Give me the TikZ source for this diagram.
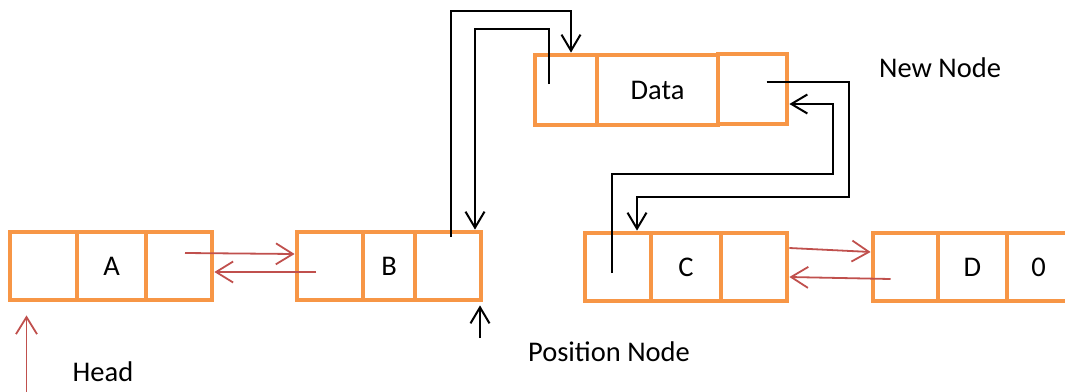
\documentclass[tikz,border=0pt]{standalone}
\usepackage{fontspec}
\setmainfont{Carlito}
\usetikzlibrary{arrows.meta}
\definecolor{nodeorange}{HTML}{F79646}
\definecolor{linkred}{HTML}{C0504D}
\tikzset{
  cell/.style={draw=nodeorange, line width=4.8pt, minimum height=68pt, inner sep=0pt, font=\fontsize{28.5}{33}\selectfont},
  redarrow/.style={draw=linkred, line width=1.8pt, -{Straight Barb[length=17pt,width=21pt,line width=1.8pt]}},
  blkarrow/.style={draw=black, line width=2pt, -{Straight Barb[length=16pt,width=19pt,line width=2pt]}},
  label/.style={font=\fontsize{28.5}{33}\selectfont, inner sep=0pt}
}
\begin{document}
\begin{tikzpicture}[x=1pt,y=-1pt]
\useasboundingbox (0,0) rectangle (1065,391);
% Node A
\node[cell, minimum width=67pt] (a1) at (43.5,266) {};
\node[cell, minimum width=69pt] (a2) at (111.5,266) {A};
\node[cell, minimum width=66pt] (a3) at (179,266) {};
% Node B
\node[cell, minimum width=66pt] (b1) at (330,266) {};
\node[cell, minimum width=52pt] (b2) at (389,266) {B};
\node[cell, minimum width=66pt] (b3) at (448,266) {};
% New node
\node[cell, minimum width=62pt, minimum height=70pt] (n1) at (566,90) {};
\node[cell, minimum width=121pt, minimum height=70pt] (n2) at (657.5,90) {Data};
\node[cell, minimum width=69pt, minimum height=70pt] (n3) at (752.5,89) {};
% Node C
\node[cell, minimum width=66pt] (c1) at (618,267) {};
\node[cell, minimum width=70pt] (c2) at (686,267) {C};
\node[cell, minimum width=66pt] (c3) at (754,267) {};
% Node D
\node[cell, minimum width=65pt] (d1) at (905.5,267) {};
\node[cell, minimum width=69pt] (d2) at (972.5,267) {D};
\node[cell, minimum width=63pt] (d3) at (1038.5,267) {0};
% labels
\node[label] (lnew) at (940,68) {New Node};
\node[label] (lpos) at (609,352) {Position Node};
\node[label] (lhead) at (103,372) {Head};
% red links
\draw[redarrow] ([xshift=6pt,yshift=13pt]a3.center) -- ([yshift=12pt]b1.west);
\draw[redarrow] ([xshift=-14pt,yshift=-6pt]b1.center) -- ([yshift=-6pt]a3.east);
\draw[redarrow] ([yshift=19pt]c3.east) -- ([yshift=15pt]d1.west);
\draw[redarrow] ([xshift=-15pt,yshift=-12pt]d1.center) -- ([yshift=-10pt]c3.east);
\coordinate (head0) at (26.5,392);
\draw[redarrow] (head0) -- ([xshift=-17pt,yshift=-13pt]a1.south);
% position arrow
\coordinate (pos0) at (480,338);
\draw[blkarrow] (pos0) -- ([xshift=32pt,yshift=-3pt]b3.south);
% black links
\draw[blkarrow] ([xshift=3pt,yshift=29pt]b3.center) -- ++(0,-226) -| ([xshift=5pt]n1.north);
\draw[blkarrow] ([xshift=-17pt,yshift=6pt]n1.center) -- ++(0,-55) -| ([xshift=27pt]b3.north);
\draw[blkarrow] ([xshift=14pt,yshift=7pt]n3.center) -- ++(82,0) -- ++(0,115) -| ([xshift=19pt]c1.north);
\draw[blkarrow] ([xshift=-6pt,yshift=-6pt]c1.center) |- ++(221,-99) |- ([yshift=-15pt]n3.east);
\end{tikzpicture}
\end{document}
